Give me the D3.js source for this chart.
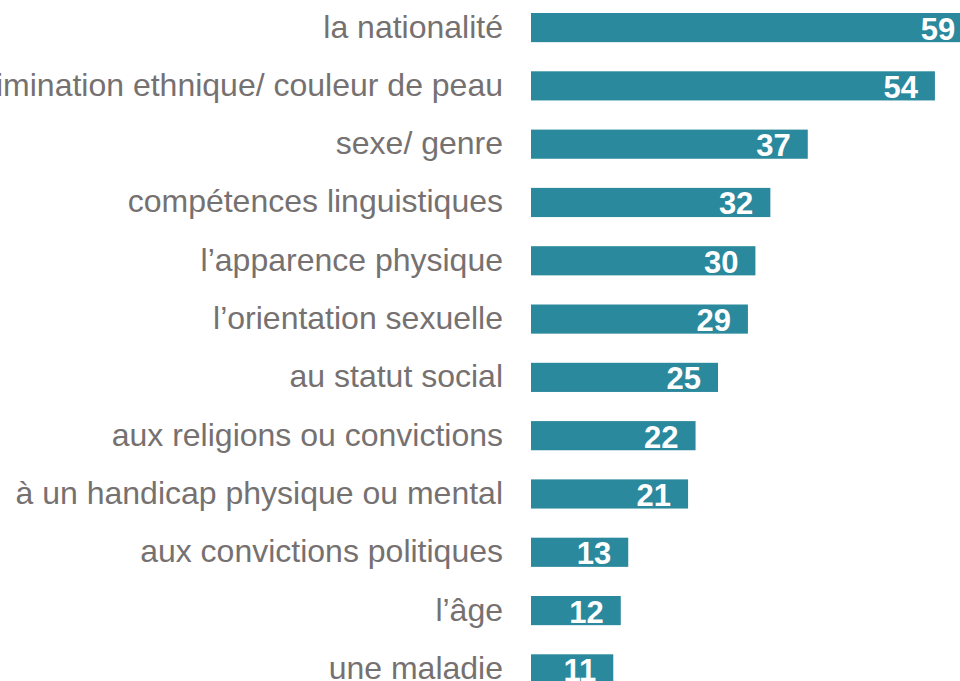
<!DOCTYPE html>
<html>
<head>
<meta charset="utf-8">
<script src="https://cdn.jsdelivr.net/npm/d3@7"></script>
<style>
  body { margin: 0; background: #fff; overflow: hidden; }
  .cat { font-family: "Liberation Sans", Arial, sans-serif; font-size: 32px; fill: #767171; }
  .val { font-family: "Liberation Sans", Arial, sans-serif; font-size: 31px; font-weight: bold; fill: #fff; }
</style>
</head>
<body>
<div id="chart"></div>
<script>
// Daten
const categories = [
  "la nationalité",
  "discrimination ethnique/ couleur de peau",
  "sexe/ genre",
  "compétences linguistiques",
  "l’apparence physique",
  "l’orientation sexuelle",
  "au statut social",
  "aux religions ou convictions",
  "à un handicap physique ou mental",
  "aux convictions politiques",
  "l’âge",
  "une maladie"
]
const values = [59, 54, 37, 32, 30, 29, 25, 22, 21, 13, 12, 11]

const width = 960
const height = 681

const barX = 531
const unitPx = 7.48           // Pixel pro Prozentpunkt
const step = 58.3
const firstTop = 13

const svg = d3.select("#chart")
  .append("svg")
  .attr("width", width)
  .attr("height", height)

const x = d3.scaleLinear()
  .domain([0, 59])
  .range([barX, barX + 59 * unitPx])

const y = d3.scaleBand()
  .domain(categories)
  .range([firstTop - 0.25 * step, firstTop - 0.25 * step + categories.length * step])
  .paddingInner(0.5)
  .paddingOuter(0.25)

const rows = categories.map((c, i) => ({ cat: c, value: values[i] }))

// Balken
svg.append("g")
  .selectAll("rect")
  .data(rows)
  .enter()
  .append("rect")
  .attr("x", x(0))
  .attr("y", d => y(d.cat))
  .attr("width", d => x(d.value) - x(0))
  .attr("height", y.bandwidth())
  .style("fill", "#2a899c")

// Kategorien
svg.append("g")
  .selectAll("text")
  .data(rows)
  .enter()
  .append("text")
  .attr("class", "cat")
  .attr("x", 503)
  .attr("y", d => y(d.cat) + y.bandwidth() / 2 + 10)
  .style("text-anchor", "end")
  .text(d => d.cat)

// Werte
svg.append("g")
  .selectAll("text")
  .data(rows)
  .enter()
  .append("text")
  .attr("class", "val")
  .attr("x", d => x(d.value) - 17)
  .attr("y", d => y(d.cat) + y.bandwidth() / 2 + 12)
  .style("text-anchor", "end")
  .text(d => d.value)
</script>
</body>
</html>
